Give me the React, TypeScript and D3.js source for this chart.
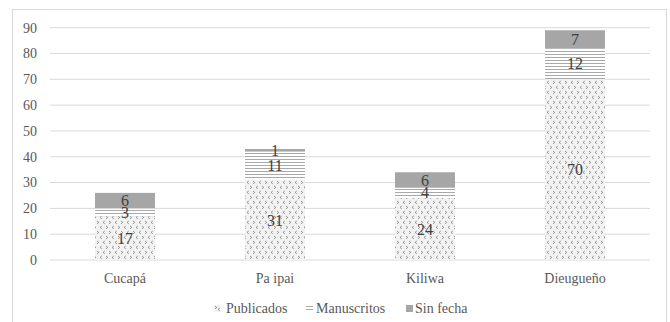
import React from "react";
import * as d3 from "d3";

const categories = ["Cucapá", "Pa ipai", "Kiliwa", "Dieugueño"];
const publicados = [17, 31, 24, 70];
const manuscritos = [3, 11, 4, 12];
const sinFecha = [6, 1, 6, 7];
const yTicks = [0, 10, 20, 30, 40, 50, 60, 70, 80, 90];
const seriesNames = ["Publicados", "Manuscritos", "Sin fecha"];

const W = 670;
const H = 322;
const font = "'Liberation Serif', 'DejaVu Serif', 'Times New Roman', serif";

export default function App() {
  const x = d3.scaleBand<string>().domain(categories).range([50, 650]).paddingInner(0.6).paddingOuter(0.3);
  const y = d3.scaleLinear().domain([0, 90]).range([260, 27.7]);
  const fills = ["url(#pubPat)", "url(#manPat)", "#a6a6a6"];
  const data = categories.map((c, i) => ({ cat: c, Publicados: publicados[i], Manuscritos: manuscritos[i], "Sin fecha": sinFecha[i] }));
  const stack = d3.stack<any>().keys(seriesNames)(data);
  const ts = { fontFamily: font };

  const legendItems = [
    { name: "Publicados", mx: 214, tx: 226 },
    { name: "Manuscritos", mx: 306, tx: 316 },
    { name: "Sin fecha", mx: 406, tx: 415 },
  ];

  return (
    <svg width={W} height={H} style={{ position: "absolute", left: 0, top: 0, background: "#fff" }}>
      <defs>
        <pattern id="pubPat" patternUnits="userSpaceOnUse" width={12} height={10}>
          <rect width={12} height={10} fill="#f2f2f2" />
          <g stroke="#808080" strokeWidth={0.8} fill="none">
            <path d="M1,1 L2.8,2.4 L1,3.8" />
            <path d="M8.8,1 L7,2.4 L8.8,3.8" />
            <path d="M5.8,6 L4,7.4 L5.8,8.8" />
            <path d="M10,6 L11.8,7.4 L10,8.8" />
          </g>
        </pattern>
        <pattern id="manPat" patternUnits="userSpaceOnUse" width={6} height={3}>
          <rect width={6} height={3} fill="#ffffff" />
          <rect y={0} width={6} height={1} fill="#a9a9a9" />
        </pattern>
        <pattern id="pubLeg" patternUnits="userSpaceOnUse" width={7} height={7} x={214} y={305}>
          <rect width={7} height={7} fill="#f2f2f2" />
          <path d="M1,1 L2.8,2.4 L1,3.8 M5.8,3 L4,4.4 L5.8,5.8" stroke="#808080" strokeWidth={0.8} fill="none" />
        </pattern>
      </defs>
      <rect x={12.5} y={9.5} width={654} height={330} fill="#fff" stroke="#d9d9d9" />
      {yTicks.map((t) => (
        <g key={t}>
          <line x1={50} x2={650} y1={y(t)} y2={y(t)} stroke="#d9d9d9" strokeWidth={1} />
          <text x={37} y={y(t)} dy="0.35em" textAnchor="end" fontSize={14} fill="#595959" style={ts}>{t}</text>
        </g>
      ))}
      {stack.map((s, si) => (
        <g key={s.key}>
          {s.map((d, i) => (
            <rect key={i} x={x(categories[i])} width={x.bandwidth()} y={y(d[1])} height={y(d[0]) - y(d[1])} fill={fills[si]} />
          ))}
        </g>
      ))}
      {stack.map((s, si) => (
        <g key={s.key + "l"}>
          {s.map((d, i) => (
            <text key={i} x={(x(categories[i]) as number) + x.bandwidth() / 2} y={y((d[0] + d[1]) / 2)} dy="0.35em" textAnchor="middle" fontSize={16} fill="#404040" style={ts}>
              {d[1] - d[0]}
            </text>
          ))}
        </g>
      ))}
      {categories.map((c) => (
        <text key={c} x={(x(c) as number) + x.bandwidth() / 2} y={278} dy="0.35em" textAnchor="middle" fontSize={14} fill="#595959" style={ts}>{c}</text>
      ))}
      {legendItems.map((l, i) => (
        <g key={l.name}>
          <rect x={l.mx} y={305} width={7} height={7} fill={i === 0 ? "url(#pubLeg)" : i === 1 ? "url(#manPat)" : "#a6a6a6"} />
          <text x={l.tx} y={308.5} dy="0.35em" fontSize={14} fill="#595959" style={ts}>{l.name}</text>
        </g>
      ))}
    </svg>
  );
}
